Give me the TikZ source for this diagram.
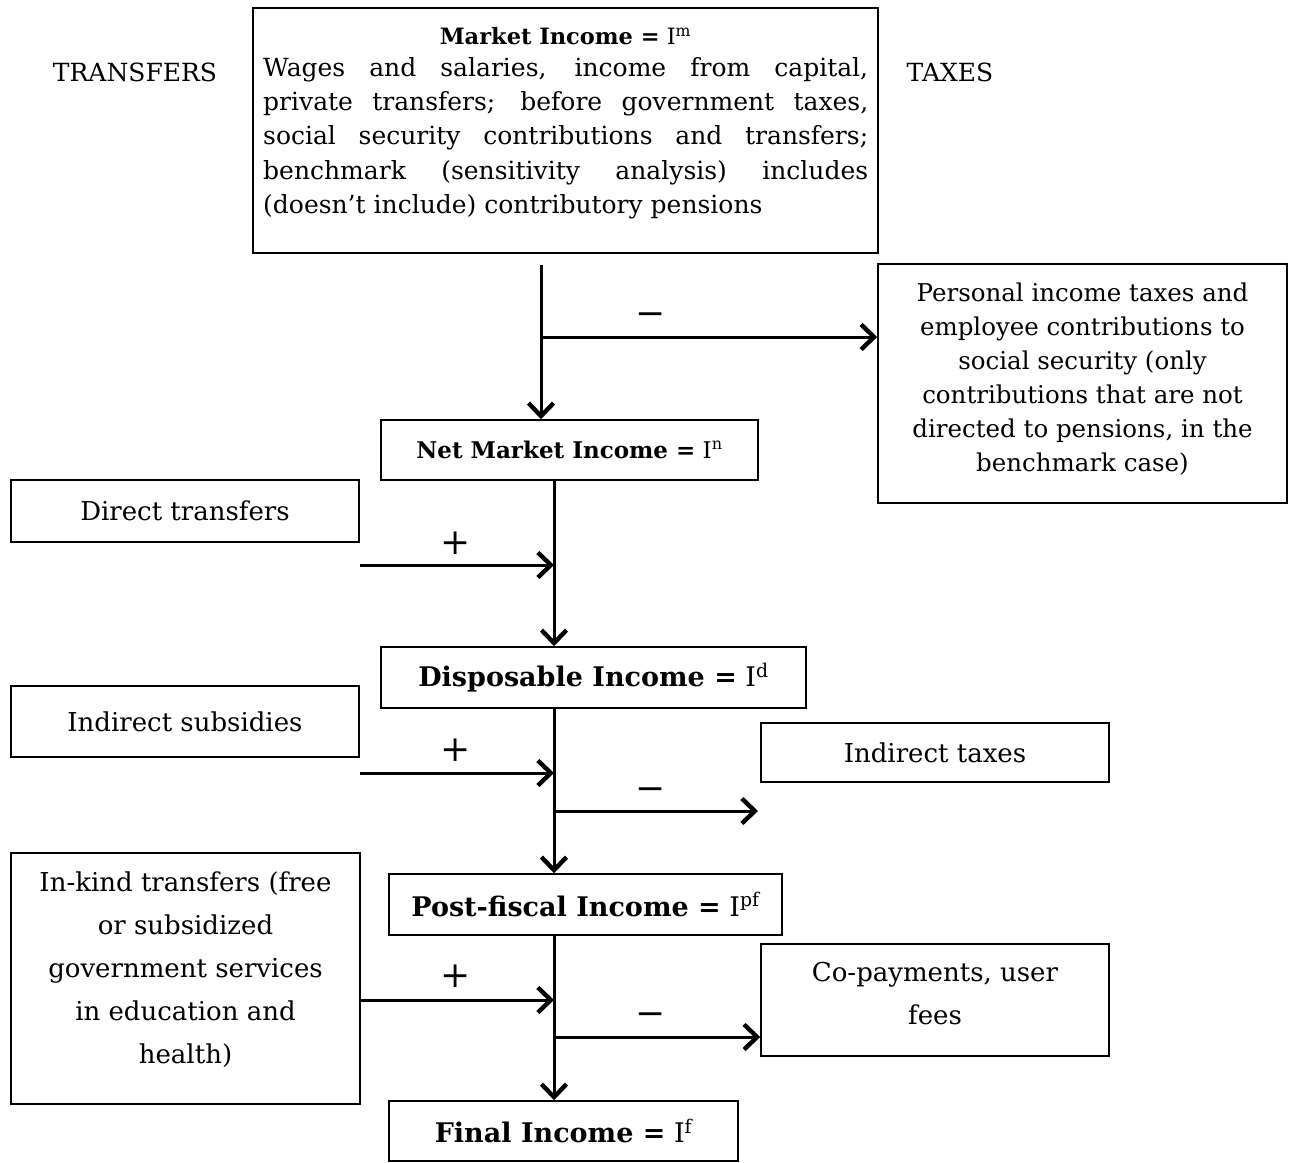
\documentclass[tikz,border=0pt]{standalone}
\usepackage{fontspec}
\setmainfont{DejaVu Serif}
\usetikzlibrary{arrows.meta}
\newcommand\spinex{554}
\newcommand\leftx{360}
\newcommand\bodysize{\fontsize{25}{34.3}\selectfont}
\newcommand\largesize{\fontsize{26}{43}\selectfont}
\newcommand\titlesize{\fontsize{27}{43}\selectfont}
\newcommand\signsize{\fontsize{36}{36}\selectfont}

\tikzset{
	box/.style = {draw, line width = 1.5pt, inner sep = 0pt},
	flow/.style = {line width = 3pt, -{Straight Barb[length = 13pt, width = 25pt, line width = 4.4pt]}},
	sign/.style = {font = \signsize, inner sep = 0pt},
}

\begin{document}
\begin{tikzpicture}[x = 1pt, y = -1pt]
	\useasboundingbox (0, 0) rectangle (1292, 1162);

	% Ueberschriften
	\node [font = \fontsize{25}{28}\selectfont] (transfers) at (135, 72) {TRANSFERS};
	\node [font = \fontsize{25}{28}\selectfont] (taxes) at (950, 72) {TAXES};

	% Markteinkommen
	\node [box, minimum width = 625pt, minimum height = 245pt] (mkt) at (565.5, 130.5) {};
	\node [font = \fontsize{22.5}{28}\selectfont] (mkttitle) at (565.5, 36) {\textbf{Market Income =} I\textsuperscript{m}};
	\node [font = \bodysize, anchor = north west, text width = 605pt, align = justify, inner sep = 0pt] (mktbody) at (263, 57) {Wages and salaries, income from capital,\linebreak private transfers; before government taxes,\linebreak social security contributions and transfers;\linebreak benchmark (sensitivity analysis) includes\linebreak (doesn’t include) contributory pensions};

	% Einkommensstufen
	\node [box, minimum width = 377pt, minimum height = 60pt, font = \fontsize{23}{28}\selectfont] (net) at (569.5, 450) {\textbf{Net Market Income =} I\textsuperscript{n}};
	\node [box, minimum width = 425pt, minimum height = 61pt, font = \titlesize] (disp) at (593.5, 677.5) {\textbf{Disposable Income =} I\textsuperscript{d}};
	\node [box, minimum width = 393pt, minimum height = 61pt, font = \titlesize] (post) at (585.5, 904.5) {\textbf{Post-fiscal Income =} I\textsuperscript{pf}};
	\node [box, minimum width = 349pt, minimum height = 60pt, font = \titlesize] (final) at (563.5, 1131) {\textbf{Final Income =} I\textsuperscript{f}};

	% Transfers (links)
	\node [box, minimum width = 348pt, minimum height = 62pt, font = \largesize] (direct) at (185, 511) {Direct transfers};
	\node [box, minimum width = 348pt, minimum height = 71pt, font = \largesize] (indsub) at (185, 721.5) {Indirect subsidies};
	\node [box, minimum width = 349pt, minimum height = 251pt] (inkind) at (185.5, 978.5) {};
	\node [font = \largesize, align = center] (inkindtext) at (185.5, 970) {In-kind transfers (free\\or subsidized\\government services\\in education and\\health)};

	% Steuern (rechts)
	\node [box, minimum width = 409pt, minimum height = 239pt] (pit) at (1082.5, 383.5) {};
	\node [font = \fontsize{24.5}{34}\selectfont, align = center] (pittext) at (1082.5, 379) {Personal income taxes and\\employee contributions to\\social security (only\\contributions that are not\\directed to pensions, in the\\benchmark case)};
	\node [box, minimum width = 348pt, minimum height = 59pt, font = \largesize] (indtax) at (935, 752.5) {Indirect taxes};
	\node [box, minimum width = 348pt, minimum height = 112pt] (copay) at (935, 1000) {};
	\node [font = \largesize, align = center] (copaytext) at (935, 994) {Co-payments, user\\fees};

	% Verbindungen
	\coordinate (spine) at (\spinex, 0);
	\coordinate (top) at (541, 265);
	\coordinate (out1) at (541, 337);
	\coordinate (in1) at (\leftx, 565);
	\coordinate (in2) at (\leftx, 773);
	\coordinate (in3) at (\leftx, 1000);
	\coordinate (out2) at (\spinex, 811);
	\coordinate (out3) at (\spinex, 1037);
	\coordinate (end2) at (758, 811);

	\draw [flow] (top) -- (top |- net.north);
	\draw [flow] (out1) -- (out1 -| pit.west);
	\draw [flow] (net.south -| spine) -- (disp.north -| spine);
	\draw [flow] (disp.south -| spine) -- (post.north -| spine);
	\draw [flow] (post.south -| spine) -- (final.north -| spine);
	\foreach \i in {in1, in2, in3} {
		\draw [flow] (\i) -- (\i -| spine);
	}
	\draw [flow] (out2) -- (end2);
	\draw [flow] (out3) -- (out3 -| copay.west);

	% Vorzeichen
	\node [sign] (minus1) at (651, 319) {−};
	\node [sign] (minus2) at (651, 794) {−};
	\node [sign] (minus3) at (651, 1019) {−};
	\foreach \y/\name in {543/plus1, 750/plus2, 976/plus3} {
		\node [sign] (\name) at (456, \y) {+};
	}
\end{tikzpicture}
\end{document}
